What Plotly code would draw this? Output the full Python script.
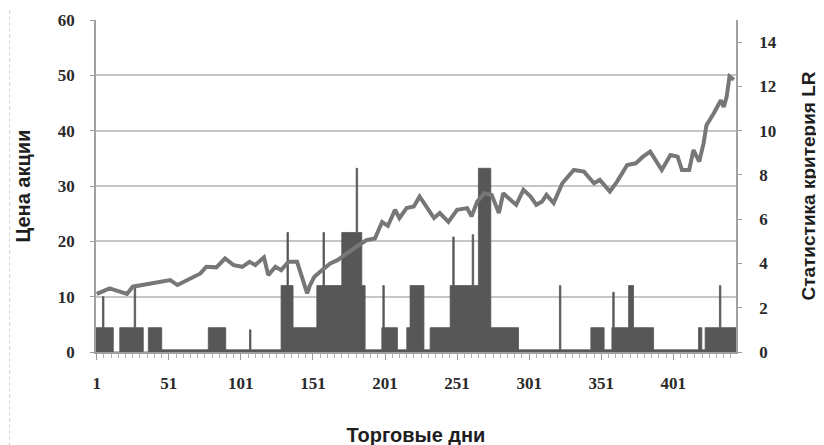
import plotly.graph_objects as go

# trading days (x) and share price
price_day = [1, 10, 17, 22, 26, 33, 43, 52, 57, 66, 73, 77, 84, 90, 96, 102, 107, 111, 117, 120,
             125, 129, 134, 140, 143, 147, 149, 152, 156, 163, 168, 174, 181, 188, 194, 199, 203, 208, 211, 216,
             221, 225, 230, 235, 239, 245, 251, 258, 261, 265, 270, 275, 280, 283, 288, 292, 297, 302, 306, 310,
             313, 318, 324, 332, 339, 346, 350, 357, 362, 369, 375, 380, 385, 393, 399, 404, 407, 412, 415, 419,
             422, 424, 429, 434, 436, 438, 440, 443]
price = [10.5, 11.5, 10.9, 10.5, 11.8, 12.1, 12.7, 13.0, 12.1, 13.3, 14.2, 15.4, 15.3, 16.9, 15.7, 15.4, 16.3, 15.7, 17.1, 13.9,
         15.4, 14.8, 16.3, 16.3, 13.6, 10.6, 12.1, 13.6, 14.5, 16.0, 16.6, 17.8, 19.0, 20.2, 20.5, 23.5, 22.8, 25.7, 24.2, 26.0,
         26.3, 28.1, 26.0, 24.2, 25.1, 23.5, 25.7, 26.0, 24.5, 27.2, 28.7, 28.4, 25.1, 28.7, 27.5, 26.6, 29.3, 28.1, 26.6, 27.2,
         28.4, 26.9, 30.5, 32.9, 32.6, 30.5, 31.1, 29.0, 30.8, 33.8, 34.1, 35.3, 36.2, 32.9, 35.6, 35.3, 32.9, 32.9, 36.5, 34.4,
         37.7, 41.0, 43.1, 45.5, 44.3, 46.1, 49.8, 49.2]

# LR statistic: value holds from each start day until the next one
lr_start = [0.5, 5, 6, 12.5, 17, 27, 28, 33.3, 36.8, 46.1,
            78.4, 90.5, 107, 108, 128.9, 133, 134, 137.2, 153.7, 158,
            159, 171, 181, 182, 184.9, 187.2, 198.8, 199.5, 200.5, 209.6,
            216.1, 218.4, 228, 232.3, 246.2, 248, 249, 261.5, 262.5, 265.8,
            274.4, 293.6, 322, 323, 343.8, 353, 358.4, 359, 360, 370,
            373.4, 387.3, 418.5, 420.8, 423.1, 433, 434, 444.5]
lr_value = [1.1, 2.5, 1.1, 0.0, 1.1, 3.0, 1.1, 0.0, 1.1, 0.1,
            1.1, 0.1, 1.0, 0.1, 3.0, 5.4, 3.0, 1.1, 3.0, 5.4,
            3.0, 5.4, 8.3, 5.4, 3.0, 0.1, 1.1, 3.0, 1.1, 0.1,
            1.1, 3.0, 0.1, 1.1, 3.0, 5.2, 3.0, 5.3, 3.0, 8.3,
            1.1, 0.1, 3.0, 0.1, 1.1, 0.1, 1.1, 2.7, 1.1, 3.0,
            1.1, 0.1, 1.1, 0.1, 1.1, 3.0, 1.1, 1.1]

x_ticks = [1, 51, 101, 151, 201, 251, 301, 351, 401]

tick_font = dict(family="Liberation Serif, DejaVu Serif, serif", size=17, color="#2a2a2a", weight="bold")
title_font = dict(family="Liberation Sans, Arial, sans-serif", size=20, color="#1e1e1e", weight="bold")

fig = go.Figure()

fig.add_trace(go.Scatter(
    x=lr_start, y=lr_value, mode="lines", line_shape="hv",
    line=dict(color="#555555", width=0.8), fill="tozeroy", fillcolor="#575757",
    yaxis="y", showlegend=False))

fig.add_trace(go.Scatter(
    x=price_day, y=price, mode="lines",
    line=dict(color="#777777", width=4),
    yaxis="y2", showlegend=False))

# the page body adds 8px on the left and top, so the margins make up for it
fig.update_layout(
    width=824, height=445,
    margin=dict(l=88, r=96, t=12, b=101),
    paper_bgcolor="white", plot_bgcolor="white",
    xaxis=dict(
        range=[0.5, 444.5], tickmode="array", tickvals=x_ticks, automargin=False,
        ticks="outside", ticklen=6, tickcolor="#999999",
        minor=dict(dtick=5, tick0=1, ticks="outside", ticklen=4, tickcolor="#b0b0b0"),
        showgrid=False, zeroline=False, showline=True, linecolor="#a0a0a0", linewidth=1.5,
        tickfont=tick_font, ticklabelstandoff=9,
        title=dict(text="Торговые дни", font=title_font, standoff=36)),
    yaxis=dict(
        side="right", range=[0, 15], tickvals=[0, 2, 4, 6, 8, 10, 12, 14], automargin=False,
        ticks="outside", ticklen=4, tickcolor="#999999",
        showgrid=False, zeroline=False, showline=True, linecolor="#a0a0a0", linewidth=1.5,
        tickfont=tick_font, ticklabelstandoff=14,
        title=dict(text="Статистика критерия LR", font=dict(title_font, size=19), standoff=26)),
    yaxis2=dict(
        overlaying="y", side="left", range=[0, 60], tickvals=[0, 10, 20, 30, 40, 50, 60], automargin=False,
        ticks="outside", ticklen=4, tickcolor="#999999",
        showgrid=True, gridcolor="#c6c6c6", gridwidth=2, zeroline=False,
        showline=True, linecolor="#a0a0a0", linewidth=1.5,
        tickfont=tick_font, ticklabelstandoff=12,
        title=dict(text="Цена акции", font=title_font, standoff=22)),
    shapes=[dict(type="line", xref="paper", yref="paper", x0=-0.135, x1=-0.135, y0=-0.3, y1=1.04,
                 line=dict(color="#cccccc", width=1, dash="dot"))],
)

fig.write_html("out.html")
